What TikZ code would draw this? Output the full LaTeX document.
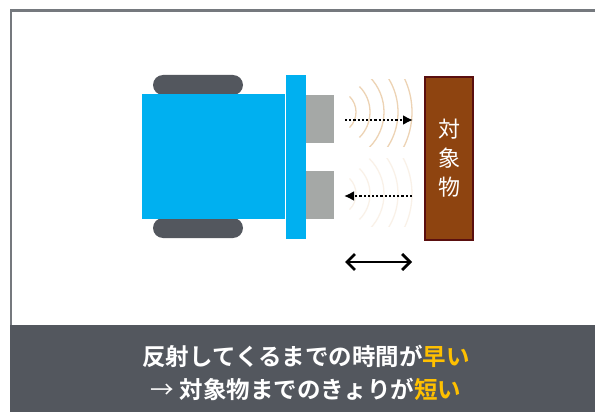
\documentclass[tikz,border=0pt]{standalone}
\usepackage{fontspec}
\setmainfont{Noto Sans CJK JP}
\newfontfamily\jpbold{Noto Sans CJK JP Bold}
\usetikzlibrary{arrows.meta}

\definecolor{bodyblue}{HTML}{00B0F0}
\definecolor{slate}{HTML}{53575E}
\definecolor{sensorgray}{HTML}{A5A8A6}
\definecolor{brickbrown}{HTML}{8E4410}
\definecolor{darkred}{HTML}{5A0F0F}
\definecolor{gold}{HTML}{FFC000}
\definecolor{wavetan}{HTML}{EDD3B4}

\tikzset{
  wheel/.style={fill=slate,rounded corners=10pt},
  sensor/.style={fill=sensorgray},
  wave/.style={wavetan,line width=1.3pt},
  echo/.style={dash pattern=on 2.2pt off 2pt,line width=2.2pt,-{Latex[length=10pt,width=10pt]}},
}

\begin{document}
\begin{tikzpicture}[x=1pt,y=-1pt]
\useasboundingbox (0,0) rectangle (595,412);

% -- frame and caption band
\fill[white] (0,0) rectangle (595,412);
\draw[slate!80,line width=2.5pt] (11,412) -- (11,10.5) -- (595,10.5);
\fill[slate] (10,325) rectangle (595,412);

% -- wheels
\fill[wheel] (153,75) rectangle (243,95);
\fill[wheel] (153,218) rectangle (243,238);

% -- body and front bar
\fill[bodyblue] (142,94) rectangle (285,219);
\fill[bodyblue] (286,75) rectangle (306,239);

% -- sensors
\fill[sensor] (306,95) rectangle (334,143);
\fill[sensor] (306,171) rectangle (334,219);

% -- sound waves
\begin{scope}
\clip (345,80) rectangle (414,146);
\foreach \r in {22,36,50,64,78}
  \draw[wave] (334,112) ++(-45:\r) arc (-45:45:\r);
\end{scope}
\begin{scope}
\clip (345,158) rectangle (414,226);
\foreach \r in {22,36,50,64,78}
  \draw[wave,opacity=0.3] (334,194) ++(-45:\r) arc (-45:45:\r);
\end{scope}

% -- object
\node[fill=brickbrown,draw=darkred,line width=2pt,minimum width=48pt,minimum height=163pt,
  anchor=north west,text=white,font=\fontsize{22}{29}\selectfont,align=center,inner sep=0pt]
  (target) at (424,76) {対\\象\\物};

% -- arrows
\coordinate (outS) at (345,120);
\coordinate (outE) at (413,120);
\coordinate (backS) at (412,196);
\coordinate (backE) at (344,196);
\coordinate (gapL) at (345,262);
\coordinate (gapR) at (412,262);
\draw[echo] (outS) -- (outE);
\draw[echo] (backS) -- (backE);
\draw[line width=2.8pt,{Straight Barb[length=8pt,width=16pt]}-{Straight Barb[length=8pt,width=16pt]}] (gapL) -- (gapR);

% -- caption
\node[text=white,font=\jpbold\fontsize{23.5}{33}\selectfont,align=center] (caption) at (306,373)
  {反射してくるまでの時間が\textcolor{gold}{早い}\\{\mdseries\fontspec{Noto Sans CJK JP}→} 対象物までのきょりが\textcolor{gold}{短い}};
\end{tikzpicture}
\end{document}
